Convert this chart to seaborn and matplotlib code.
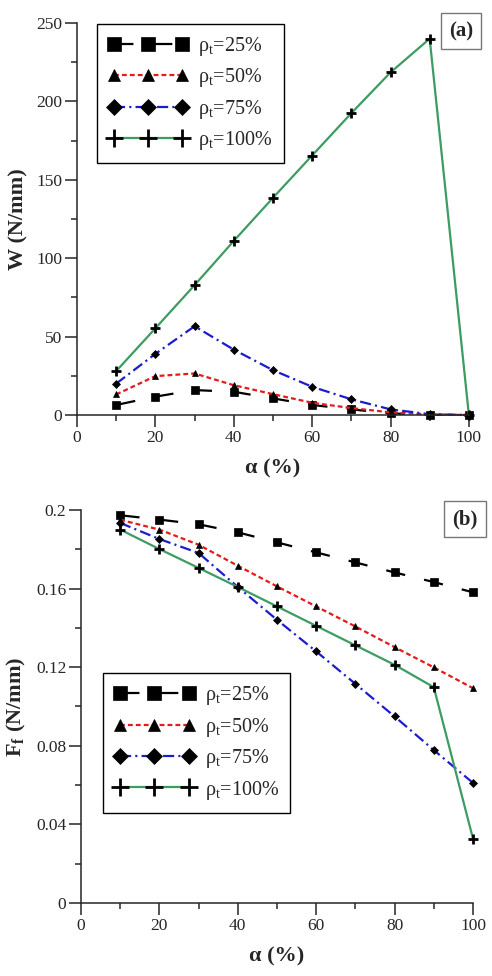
import numpy as np
import pandas as pd
import seaborn as sns
import matplotlib
matplotlib.use("Agg")
import matplotlib.pyplot as plt
from matplotlib.ticker import MultipleLocator, FuncFormatter

alpha = [10, 20, 30, 40, 50, 60, 70, 80, 90, 100]
labels = ["25%", "50%", "75%", "100%"]

# panel (a): W (N/mm)
w_25 = [6.4, 11.7, 15.9, 14.8, 10.6, 6.4, 3.6, 1.0, 0.2, 0.0]
w_50 = [13.1, 24.8, 26.5, 19.0, 13.3, 7.8, 4.4, 1.7, 0.3, 0.0]
w_75 = [20.0, 39.0, 56.6, 41.7, 28.6, 18.0, 10.0, 3.6, 0.5, 0.0]
w_100 = [28.0, 55.3, 82.8, 111.0, 138.5, 165.5, 192.5, 218.5, 240.0, 0.0]

# panel (b): Ff (N/mm)
f_25 = [0.1973, 0.1951, 0.1927, 0.1886, 0.1835, 0.1784, 0.1733, 0.1682, 0.1633, 0.1581]
f_50 = [0.1950, 0.1900, 0.1823, 0.1716, 0.1611, 0.1509, 0.1407, 0.1302, 0.1199, 0.1093]
f_75 = [0.1934, 0.1852, 0.1781, 0.1608, 0.1441, 0.1280, 0.1115, 0.0949, 0.0778, 0.0611]
f_100 = [0.1900, 0.1801, 0.1705, 0.1608, 0.1509, 0.1410, 0.1311, 0.1212, 0.1098, 0.0327]

sns.set_style("ticks")
plt.rcParams["font.family"] = ["Liberation Serif", "DejaVu Serif"]
plt.rcParams["mathtext.fontset"] = "custom"
plt.rcParams["mathtext.rm"] = "Liberation Serif"
plt.rcParams["mathtext.bf"] = "Liberation Serif:bold"
plt.rcParams["lines.scale_dashes"] = False

colors = ["black", "#e31b1b", "#1c1ccf", "#3c9c62"]
markers = ["s", "^", "D", "+"]
msizes = [5.5, 5, 4.5, 7]
styles = [(0, (14, 14)), (0, (3.5, 2.2)), (0, (8, 3, 1.5, 3)), "-"]

fig = plt.figure(figsize=(4.92, 9.76), dpi=100)
ax_a = fig.add_axes([0.1565, 0.5748, 0.7965, 0.4016])
ax_b = fig.add_axes([0.1646, 0.0748, 0.7968, 0.4027])


def draw(ax, series):
    handles = []
    for vals, lab, c, m, ms, ls in zip(series, labels, colors, markers, msizes, styles):
        df = pd.DataFrame({"alpha": alpha, "val": vals})
        sns.lineplot(data=df, x="alpha", y="val", ax=ax, color=c, linewidth=1.6,
                     linestyle=ls, clip_on=False, legend=False)
        line = ax.lines[-1]
        line.set_marker(m)
        line.set_markersize(ms)
        line.set_markerfacecolor("black")
        line.set_markeredgecolor("black")
        line.set_markeredgewidth(2.0 if m == "+" else 0.5)
        line.set_label("ρ$_\\mathrm{t}$=" + lab)
        handles.append(line)
    ax.set_xlim(0, 100)
    ax.xaxis.set_major_locator(MultipleLocator(20))
    ax.xaxis.set_minor_locator(MultipleLocator(10))
    ax.tick_params(which="major", length=8.5, width=1.1, labelsize=12.5, pad=2)
    ax.tick_params(which="minor", length=4.5, width=1.1)
    for s in ["left", "bottom"]:
        ax.spines[s].set_linewidth(1.1)
    sns.despine(ax=ax)
    ax.set_xlabel("α (%)", fontsize=16, fontweight="bold", labelpad=9)
    return handles


def add_legend(ax, handles, anchor):
    leg = ax.legend(handles=handles, loc="upper left", bbox_to_anchor=anchor, numpoints=3,
                    handlelength=4.0, markerscale=1.75, fontsize=14.5, fancybox=False,
                    framealpha=1, edgecolor="black", borderpad=0.55, labelspacing=0.42,
                    handletextpad=0.5, borderaxespad=0)
    leg.get_frame().set_linewidth(1.0)


h = draw(ax_a, [w_25, w_50, w_75, w_100])
ax_a.set_ylim(0, 250)
ax_a.yaxis.set_major_locator(MultipleLocator(50))
ax_a.yaxis.set_minor_locator(MultipleLocator(25))
ax_a.set_ylabel("W (N/mm)", fontsize=16, fontweight="bold", labelpad=6)
add_legend(ax_a, h, (0.05, 0.998))

h = draw(ax_b, [f_25, f_50, f_75, f_100])
ax_b.set_ylim(0, 0.2)
ax_b.yaxis.set_major_locator(MultipleLocator(0.04))
ax_b.yaxis.set_minor_locator(MultipleLocator(0.02))
ax_b.yaxis.set_major_formatter(FuncFormatter(lambda v, p: "%g" % round(v, 4)))
ax_b.set_ylabel(r"F$_\mathbf{f}$ (N/mm)", fontsize=16, fontweight="bold", labelpad=6)
add_legend(ax_b, h, (0.056, 0.585))

box = dict(boxstyle="square,pad=0.4", facecolor="white", edgecolor="#777777", linewidth=1.0)
fig.text(461 / 492, 1 - 31 / 976, "(a)", fontsize=15, fontweight="bold",
         ha="center", va="center", bbox=box)
fig.text(465 / 492, 1 - 519 / 976, "(b)", fontsize=15, fontweight="bold",
         ha="center", va="center", bbox=box)

fig.savefig("out.png", dpi=100)
